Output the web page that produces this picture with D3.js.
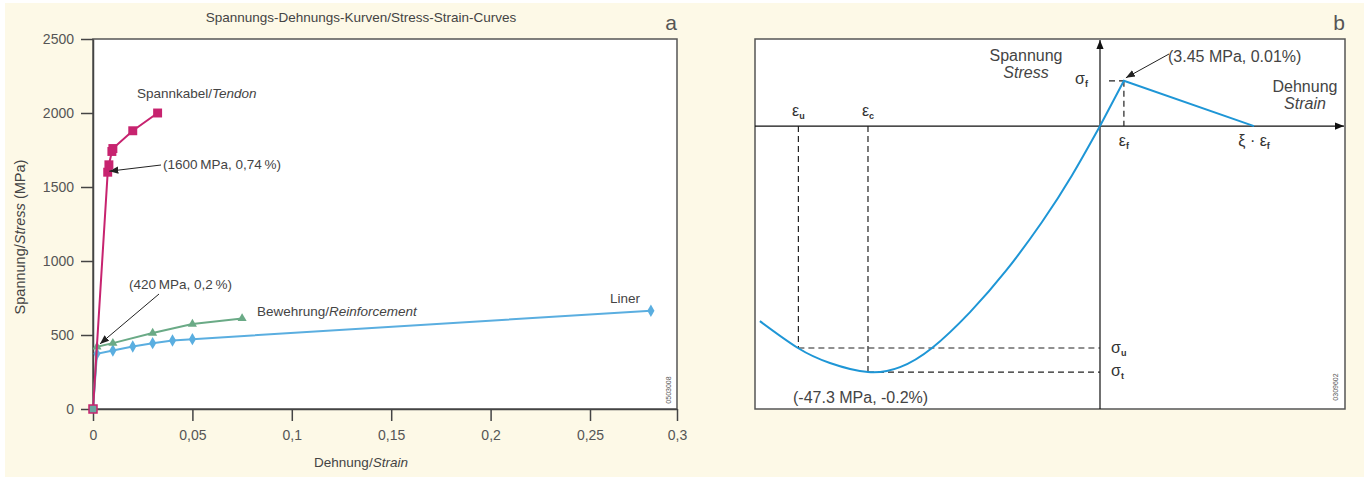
<!DOCTYPE html>
<html>
<head>
<meta charset="utf-8">
<script src="https://cdn.jsdelivr.net/npm/d3@7"></script>
<style>
  body { margin: 0; background: #fff; }
  text { font-family: "Liberation Sans", Arial, sans-serif; }
</style>
</head>
<body>
<div id="chart"></div>
<script>
// Panel a: stress-strain curves (strain as fraction, stress in MPa)
const tendonStrain = [0, 0.0074, 0.008, 0.0095, 0.01, 0.02, 0.0325];
const tendonStress = [0, 1600, 1650, 1740, 1760, 1880, 2000];
const rebarStrain = [0, 0.002, 0.01, 0.03, 0.05, 0.075];
const rebarStress = [0, 420, 445, 513, 574, 612];
const linerStrain = [0, 0.002, 0.01, 0.02, 0.03, 0.04, 0.05, 0.285];
const linerStress = [0, 373, 395, 422, 445, 463, 472, 664];
const xTicksA = [0, 0.05, 0.1, 0.15, 0.2, 0.25, 0.3];
const xTickLabelsA = ["0", "0,05", "0,1", "0,15", "0,2", "0,25", "0,3"];
const yTicksA = [0, 500, 1000, 1500, 2000, 2500];

// Panel b: schematic concrete curve (strain in units of eps_c, stress in units of sigma_t)
const compStrain = [-1.466, -1.302, -1.164, -1.0, -0.862, -0.724, -0.56, -0.405, -0.25, -0.121, 0];
const compStress = [-0.793, -0.902, -0.963, -1.0, -0.98, -0.902, -0.756, -0.588, -0.39, -0.201, 0];
const tensStrain = [0, 0.103, 0.664];
const tensStress = [0, 0.184, 0];
const epsU = -1.30, epsC = -1.0, sigU = -0.902, sigT = -1.0;
const epsF = 0.103, sigF = 0.184, xiEpsF = 0.664;

const W = 1364, H = 477;
const svg = d3.select("#chart").append("svg")
    .attr("width", W).attr("height", H);

// cream background
svg.append("rect").attr("x", 5).attr("y", 3).attr("width", W - 5).attr("height", H - 3)
    .attr("fill", "#fdf9e7");

let defs = svg.append("defs");
defs.append("marker").attr("id", "arr").attr("viewBox", "0 0 10 10")
    .attr("refX", 10).attr("refY", 5).attr("markerWidth", 9).attr("markerHeight", 9)
    .attr("markerUnits", "userSpaceOnUse").attr("orient", "auto")
    .append("path").attr("d", "M0,1 L10,5 L0,9 Z").attr("fill", "#222");
defs.append("marker").attr("id", "axarr").attr("viewBox", "0 0 10 10")
    .attr("refX", 10).attr("refY", 5).attr("markerWidth", 9).attr("markerHeight", 9)
    .attr("markerUnits", "userSpaceOnUse").attr("orient", "auto")
    .append("path").attr("d", "M0,1 L10,5 L0,9 Z").attr("fill", "#111");

// ---------- Panel a ----------
let xA = d3.scaleLinear().domain([0, 0.25, 0.3]).range([93, 590, 677]);
let yA = d3.scaleLinear().domain([0, 2500]).range([409, 39]);

svg.append("rect").attr("x", xA(0)).attr("y", yA(2500))
    .attr("width", xA(0.3) - xA(0)).attr("height", yA(0) - yA(2500))
    .attr("fill", "#fff").attr("stroke", "#555").attr("stroke-width", 1.5);

let gx = svg.append("g")
    .attr("transform", "translate(0," + yA(0) + ")")
    .attr("color", "#444")
    .call(d3.axisBottom(xA).tickValues(xTicksA).tickSize(12).tickSizeOuter(0).tickPadding(9)
        .tickFormat(function(d, i) { return xTickLabelsA[i]; }));
let gy = svg.append("g")
    .attr("transform", "translate(" + xA(0) + ",0)")
    .attr("color", "#444")
    .call(d3.axisLeft(yA).tickValues(yTicksA).tickSize(12).tickSizeOuter(0).tickPadding(7)
        .tickFormat(d3.format("d")));
[gx, gy].forEach(function(g) {
    g.selectAll("text").attr("fill", "#555").style("font-size", "14px");
    g.selectAll("line, path").attr("stroke-width", 1.5);
});

svg.append("text").attr("x", 361).attr("y", 22).attr("text-anchor", "middle")
    .style("font-size", "13.5px").attr("fill", "#444")
    .text("Spannungs-Dehnungs-Kurven/Stress-Strain-Curves");
svg.append("text").attr("x", 677).attr("y", 30).attr("text-anchor", "end")
    .style("font-size", "21px").attr("fill", "#555").text("a");

let yl = svg.append("text").attr("transform", "translate(25,237) rotate(-90)")
    .attr("text-anchor", "middle").style("font-size", "14.5px").attr("fill", "#444");
yl.append("tspan").text("Spannung/");
yl.append("tspan").style("font-style", "italic").text("Stress");
yl.append("tspan").text(" (MPa)");

let xl = svg.append("text").attr("x", 361).attr("y", 467)
    .attr("text-anchor", "middle").style("font-size", "13.5px").attr("fill", "#444");
xl.append("tspan").text("Dehnung/");
xl.append("tspan").style("font-style", "italic").text("Strain");

function series(xs, ys, color, shape, size) {
    let pts = xs.map(function(v, i) { return [v, ys[i]]; });
    svg.append("path").datum(pts)
        .attr("fill", "none").attr("stroke", color).attr("stroke-width", 2)
        .attr("d", d3.line().x(function(d) { return xA(d[0]); }).y(function(d) { return yA(d[1]); }));
    svg.append("g").selectAll("path").data(pts.slice(1)).enter().append("path")
        .attr("transform", function(d) { return "translate(" + xA(d[0]) + "," + yA(d[1]) + ")"; })
        .attr("d", d3.symbol().type(shape).size(size))
        .attr("fill", color);
}
series(linerStrain, linerStress, "#5aaee0", d3.symbolDiamond, 44);
series(rebarStrain, rebarStress, "#6aaa86", d3.symbolTriangle, 36);
series(tendonStrain, tendonStress, "#c7236f", d3.symbolSquare, 80);

// shared origin marker
svg.append("rect").attr("x", xA(0) - 4).attr("y", yA(0) - 4).attr("width", 8).attr("height", 8)
    .attr("fill", "#6aa6a0").attr("stroke", "#c7236f").attr("stroke-width", 1.5);

function label(x, y, parts) {
    let t = svg.append("text").attr("x", x).attr("y", y)
        .style("font-size", "13.5px").attr("fill", "#444");
    parts.forEach(function(p) {
        t.append("tspan").style("font-style", p[1] ? "italic" : "normal").text(p[0]);
    });
    return t;
}
label(137, 98, [["Spannkabel/", false], ["Tendon", true]]);
label(257, 316, [["Bewehrung/", false], ["Reinforcement", true]]);
label(640, 303, [["Liner", false]]).attr("text-anchor", "end");
label(163, 169, [["(1600\u2009MPa, 0,74\u2009%)", false]]);
label(129, 289, [["(420\u2009MPa, 0,2\u2009%)", false]]);

svg.append("line").attr("x1", 161).attr("y1", 165).attr("x2", xA(0.0082)).attr("y2", yA(1600) - 1)
    .attr("stroke", "#222").attr("stroke-width", 1).attr("marker-end", "url(#arr)");
svg.append("line").attr("x1", 159).attr("y1", 294).attr("x2", xA(0.0035)).attr("y2", yA(440))
    .attr("stroke", "#222").attr("stroke-width", 1).attr("marker-end", "url(#arr)");

svg.append("text").attr("transform", "translate(671,390) rotate(-90)")
    .attr("text-anchor", "middle").style("font-size", "7px").attr("fill", "#555").text("0503008");

// ---------- Panel b ----------
let xB = d3.scaleLinear().domain([-1.487, 1.056]).range([755, 1345]);
let yB = d3.scaleLinear().domain([0.354, -1.150]).range([39, 409]);

svg.append("rect").attr("x", xB(-1.487)).attr("y", yB(0.354))
    .attr("width", xB(1.056) - xB(-1.487)).attr("height", yB(-1.15) - yB(0.354))
    .attr("fill", "#fff").attr("stroke", "#555").attr("stroke-width", 1.5);
svg.append("text").attr("x", 1345).attr("y", 30).attr("text-anchor", "end")
    .style("font-size", "21px").attr("fill", "#555").text("b");

// axes with arrows
svg.append("line").attr("x1", xB(0)).attr("y1", yB(-1.15)).attr("x2", xB(0)).attr("y2", yB(0.354) + 1)
    .attr("stroke", "#111").attr("stroke-width", 1.2).attr("marker-end", "url(#axarr)");
svg.append("line").attr("x1", xB(-1.487)).attr("y1", yB(0)).attr("x2", xB(1.056) - 1).attr("y2", yB(0))
    .attr("stroke", "#111").attr("stroke-width", 1.2).attr("marker-end", "url(#axarr)");

// dashed guides
let dash = svg.append("g").attr("stroke", "#222").attr("stroke-width", 1.2)
    .attr("stroke-dasharray", "6,4").attr("fill", "none");
dash.append("line").attr("x1", xB(epsU)).attr("y1", yB(0)).attr("x2", xB(epsU)).attr("y2", yB(sigU));
dash.append("line").attr("x1", xB(epsU)).attr("y1", yB(sigU)).attr("x2", xB(0)).attr("y2", yB(sigU));
dash.append("line").attr("x1", xB(epsC)).attr("y1", yB(0)).attr("x2", xB(epsC)).attr("y2", yB(sigT));
dash.append("line").attr("x1", xB(epsC)).attr("y1", yB(sigT)).attr("x2", xB(0)).attr("y2", yB(sigT));
dash.append("line").attr("x1", xB(0) + 9).attr("y1", yB(sigF)).attr("x2", xB(epsF)).attr("y2", yB(sigF));
dash.append("line").attr("x1", xB(epsF)).attr("y1", yB(sigF)).attr("x2", xB(epsF)).attr("y2", yB(0));

// curve
let comp = compStrain.map(function(v, i) { return [v, compStress[i]]; });
let tens = tensStrain.map(function(v, i) { return [v, tensStress[i]]; });
svg.append("path").datum(comp).attr("fill", "none").attr("stroke", "#1e96d6").attr("stroke-width", 2)
    .attr("d", d3.line().curve(d3.curveNatural)
        .x(function(d) { return xB(d[0]); }).y(function(d) { return yB(d[1]); }));
svg.append("path").datum(tens).attr("fill", "none").attr("stroke", "#1e96d6").attr("stroke-width", 2)
    .attr("d", d3.line().x(function(d) { return xB(d[0]); }).y(function(d) { return yB(d[1]); }));

function sym(x, y, base, sub, anchor) {
    let t = svg.append("text").attr("x", x).attr("y", y).attr("text-anchor", anchor || "start")
        .style("font-size", "16px").attr("fill", "#333");
    t.append("tspan").text(base);
    t.append("tspan").attr("dy", 3).style("font-size", "9px").style("font-weight", "bold").text(sub);
    return t;
}
sym(xB(epsU), 116, "\u03b5", "u", "middle");
sym(xB(epsC), 116, "\u03b5", "c", "middle");
sym(xB(epsF), 146, "\u03b5", "f", "middle");
sym(1075, 84, "\u03c3", "f");
sym(1111, 353, "\u03c3", "u");
sym(1111, 376, "\u03c3", "t");
let xi = svg.append("text").attr("x", xB(xiEpsF)).attr("y", 146).attr("text-anchor", "middle")
    .style("font-size", "16px").attr("fill", "#333");
xi.append("tspan").text("\u03be \u00b7 \u03b5");
xi.append("tspan").attr("dy", 3).style("font-size", "9px").style("font-weight", "bold").text("f");

function txt(x, y, s, italic, anchor) {
    svg.append("text").attr("x", x).attr("y", y).attr("text-anchor", anchor || "start")
        .style("font-size", "16px").style("font-style", italic ? "italic" : "normal")
        .attr("fill", "#444").text(s);
}
txt(1026, 61, "Spannung", false, "middle");
txt(1026, 78, "Stress", true, "middle");
txt(1305, 92, "Dehnung", false, "middle");
txt(1305, 109, "Strain", true, "middle");
txt(1168, 62, "(3.45 MPa, 0.01%)");
txt(793, 403, "(-47.3 MPa, -0.2%)");

svg.append("line").attr("x1", 1169).attr("y1", 54).attr("x2", xB(epsF) + 2).attr("y2", yB(sigF) - 3)
    .attr("stroke", "#222").attr("stroke-width", 1).attr("marker-end", "url(#arr)");

svg.append("text").attr("transform", "translate(1338,387) rotate(-90)")
    .attr("text-anchor", "middle").style("font-size", "7px").attr("fill", "#555").text("0309602");
</script>
</body>
</html>
